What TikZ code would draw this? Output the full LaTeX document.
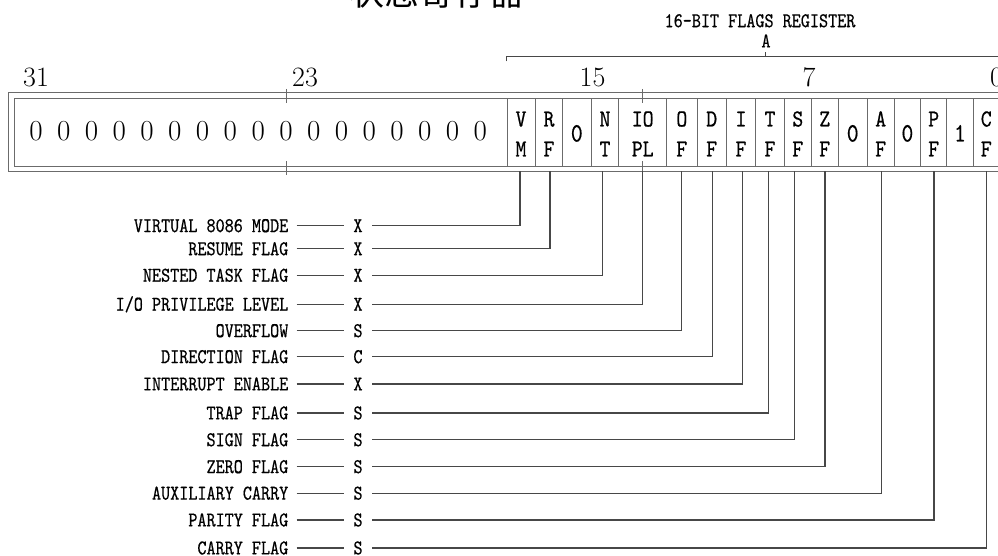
\documentclass[tikz,border=0pt]{standalone}
\usepackage{fontspec}
\newfontfamily\cjk{Noto Sans CJK SC}
\newfontfamily\lblfont[FakeStretch=0.824,FakeBold=0.5]{lmmono10-regular.otf}
\newfontfamily\cellfont[FakeStretch=0.85,FakeBold=0.5]{lmmono10-regular.otf}
\usetikzlibrary{calc}
\tikzset{
  lbl/.style={font={\lblfont\fontsize{21}{21}\selectfont}, inner sep=0pt, text height=12.8pt, text depth=0pt},
  codebox/.style={lbl, inner xsep=9pt},
  celltxt/.style={font={\cellfont\fontsize{24.5}{24.5}\selectfont}, inner sep=0pt, anchor=base},
  celldigit/.style={font={\cellfont\fontsize{26.5}{26.5}\selectfont}, inner sep=0pt, anchor=base},
  bignum/.style={font={\fontsize{28}{28}\selectfont}, inner sep=0pt, anchor=base},
  regzero/.style={font={\fontsize{29}{29}\selectfont}, inner sep=0pt, anchor=base},
  frameline/.style={draw=black!58, line width=1pt},
  conn/.style={draw=black!72, line width=1.1pt}
}
\newcommand\flagrow[5]{%
  \coordinate (c#1) at (#4,171.5);
  \node[lbl, anchor=east] (l#1) at (288.5,#5) {#2};
  \node[codebox] (s#1) at (358,#5) {#3};
  \draw[conn] ([xshift=8pt]l#1.east) -- (s#1.west);
  \draw[conn] (c#1) |- (s#1.east);
}
\begin{document}
\begin{tikzpicture}[x=1pt,y=-1pt]
\useasboundingbox (0,0) rectangle (998,556);
\clip (0,0) rectangle (998,556);
% title
\node[font={\cjk\fontsize{35}{35}\selectfont}, anchor=base, inner sep=0pt] (title) at (436.7,6) {状态寄存器};
% 16-bit bracket
\node[lbl] (regname) at (760,20.8) {16-BIT FLAGS REGISTER};
\node[lbl] (regA) at (766,41) {A};
\coordinate (brL) at (506.7,61.5);
\coordinate (brLt) at (506.7,56.7);
\coordinate (brR) at (1030,56.7);
\coordinate (brA) at (765.7,56.7);
\coordinate (brAt) at (765.7,52);
\draw[conn] (brL) -- (brLt) -- (brR);
\draw[conn] (brA) -- (brAt);
% bit numbers
\node[bignum] (n31) at (36,87) {31};
\node[bignum] (n23) at (305,87) {23};
\node[bignum] (n15) at (592.5,87) {15};
\node[bignum] (n7) at (809,87) {7};
\node[bignum] (n0) at (996.5,87) {0};
% register frame
\draw[frameline] (8,92.3) rectangle (1006,171.5);
\draw[frameline] (14.3,99) rectangle (999.5,166.7);
\foreach \x in {507.3,535,562.7,591,618.7,666.7,697,726.3,755.7,784.3,811.3,838,867.3,894,920.7,946.7,973.3}
  \draw[frameline] (\x,99) -- (\x,166.7);
% ticks
\foreach \x in {286,642.3}{
  \draw[frameline] (\x,89) -- (\x,103);
  \draw[frameline] (\x,161.5) -- (\x,175);
}
% zeros
\foreach \i in {0,...,16}
  \node[regzero] (z\i) at ({36+27.77*\i},140.5) {0};
% cells
\node[celltxt] (vmA) at (521,126.5) {V};   \node[celltxt] (vmB) at (521,156.5) {M};
\node[celltxt] (rfA) at (549,126.5) {R};   \node[celltxt] (rfB) at (549,156.5) {F};
\node[celldigit] (b14) at (576.8,141.5) {0};
\node[celltxt] (ntA) at (605,126.5) {N};   \node[celltxt] (ntB) at (605,156.5) {T};
\node[celltxt] (ioA) at (642.7,126.5) {IO}; \node[celltxt] (ioB) at (642.7,156.5) {PL};
\node[celltxt] (ofA) at (681.8,126.5) {O}; \node[celltxt] (ofB) at (681.8,156.5) {F};
\node[celltxt] (dfA) at (711.7,126.5) {D}; \node[celltxt] (dfB) at (711.7,156.5) {F};
\node[celltxt] (ifA) at (741,126.5) {I};   \node[celltxt] (ifB) at (741,156.5) {F};
\node[celltxt] (tfA) at (770,126.5) {T};   \node[celltxt] (tfB) at (770,156.5) {F};
\node[celltxt] (sfA) at (797.8,126.5) {S}; \node[celltxt] (sfB) at (797.8,156.5) {F};
\node[celltxt] (zfA) at (824.7,126.5) {Z}; \node[celltxt] (zfB) at (824.7,156.5) {F};
\node[celldigit] (b5) at (852.7,141.5) {0};
\node[celltxt] (afA) at (880.7,126.5) {A}; \node[celltxt] (afB) at (880.7,156.5) {F};
\node[celldigit] (b3) at (907.4,141.5) {0};
\node[celltxt] (pfA) at (933.7,126.5) {P}; \node[celltxt] (pfB) at (933.7,156.5) {F};
\node[celldigit] (b1) at (960,141.5) {1};
\node[celltxt] (cfA) at (986.3,126.5) {C}; \node[celltxt] (cfB) at (986.3,156.5) {F};
% flag rows
\flagrow{vm}{VIRTUAL 8086 MODE}{X}{520}{225.7}
\flagrow{rf}{RESUME FLAG}{X}{550}{248.8}
\flagrow{nt}{NESTED TASK FLAG}{X}{602.3}{275.3}
\flagrow{io}{I/O PRIVILEGE LEVEL}{X}{642.3}{304.3}
\flagrow{of}{OVERFLOW}{S}{681.3}{330.7}
\flagrow{df}{DIRECTION FLAG}{C}{712.3}{356.7}
\flagrow{if}{INTERRUPT ENABLE}{X}{742.3}{384}
\flagrow{tf}{TRAP FLAG}{S}{768.3}{413}
\flagrow{sf}{SIGN FLAG}{S}{794.3}{439.8}
\flagrow{zf}{ZERO FLAG}{S}{825}{466.7}
\flagrow{af}{AUXILIARY CARRY}{S}{881.7}{493.2}
\flagrow{pf}{PARITY FLAG}{S}{934}{520}
\flagrow{cf}{CARRY FLAG}{S}{986.3}{548}
\end{tikzpicture}
\end{document}
